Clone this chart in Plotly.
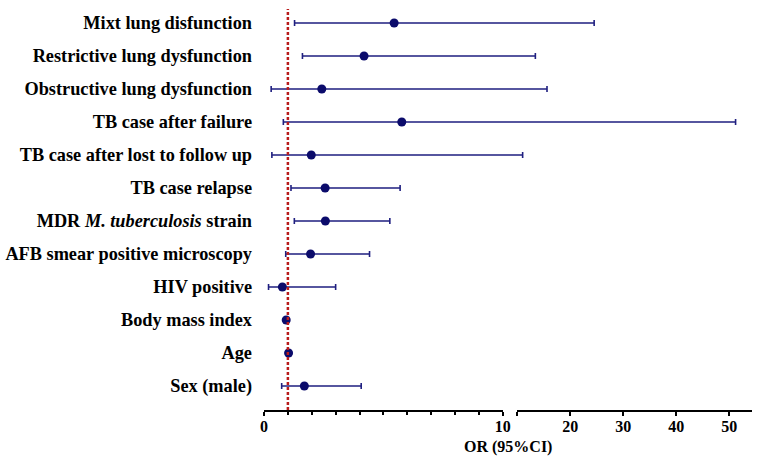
import plotly.graph_objects as go

# ---- data ----
labels = [
    "Mixt lung disfunction",
    "Restrictive lung dysfunction",
    "Obstructive lung dysfunction",
    "TB case after failure",
    "TB case after lost to follow up",
    "TB case relapse",
    "MDR <i>M. tuberculosis</i> strain",
    "AFB smear positive microscopy",
    "HIV positive",
    "Body mass index",
    "Age",
    "Sex (male)",
]
odds_ratio = [5.45, 4.19, 2.42, 5.77, 1.98, 2.56, 2.57, 1.95, 0.77, 0.93, 1.03, 1.69]
ci_lower = [1.28, 1.61, 0.30, 0.81, 0.33, 1.13, 1.27, 0.91, 0.19, 0.91, 1.01, 0.74]
ci_upper = [24.5, 13.4, 15.6, 51.2, 11.0, 5.70, 5.27, 4.42, 3.00, 0.95, 1.05, 4.07]
left_ticks = [0, 10]
right_ticks = [20, 30, 40, 50]
NULL_OR = 1

# ---- broken axis geometry ----
W, H = 760, 459
ML, MR, MT, MB = 264, 0, 3, 49
plot_w = W - ML - MR
D1 = (506.7 - ML) / plot_w          # end of left segment (fraction of plot width)
D2 = (521.5 - ML) / plot_w          # start of right segment
LEFT_RANGE = [0, 10]
RIGHT_RANGE = [10, 54.3]


def tx(v):
    """map an OR value to the shared 0..1 data axis (piecewise broken scale)."""
    if v <= LEFT_RANGE[1]:
        return (v - LEFT_RANGE[0]) / (LEFT_RANGE[1] - LEFT_RANGE[0]) * D1
    return D2 + (v - RIGHT_RANGE[0]) / (RIGHT_RANGE[1] - RIGHT_RANGE[0]) * (1 - D2)


n = len(labels)
ypos = list(range(n - 1, -1, -1))
xp = [tx(v) for v in odds_ratio]
err_plus = [tx(u) - tx(v) for u, v in zip(ci_upper, odds_ratio)]
err_minus = [tx(v) - tx(l) for l, v in zip(ci_lower, odds_ratio)]

LINE_C = "#1f1f80"
DOT_C = "#0b0b6b"
FONT = "Liberation Serif"

fig = go.Figure()
# dummy traces so the display (broken) axes render
for ax in ["x2", "x3", "x4", "x5"]:
    fig.add_trace(go.Scatter(x=[None], y=[None], xaxis=ax, yaxis="y",
                             showlegend=False, hoverinfo="skip"))
fig.add_trace(go.Scatter(
    x=xp, y=ypos, mode="markers", xaxis="x", yaxis="y",
    marker=dict(size=9, color=DOT_C),
    error_x=dict(type="data", symmetric=False, array=err_plus, arrayminus=err_minus,
                 color=LINE_C, thickness=1.6, width=3),
    showlegend=False, hoverinfo="skip",
))

pad_bottom = 24 / 33.0  # axis line 24 px below last row
y_lo = -pad_bottom
y_hi = y_lo + (H - MT - MB) / 33.0

axis_common = dict(showgrid=False, zeroline=False, linecolor="black", linewidth=1.6,
                   tickcolor="black", tickfont=dict(family=FONT, size=16, color="black"),
                   ticklabelstandoff=-3)

fig.update_layout(
    width=W, height=H,
    margin=dict(l=ML, r=MR, t=MT, b=MB),
    plot_bgcolor="rgba(0,0,0,0)", paper_bgcolor="white",
    xaxis=dict(domain=[0, 1], range=[0, 1], visible=False, fixedrange=True),
    xaxis2=dict(domain=[0, D1], range=LEFT_RANGE, anchor="y", showline=True,
                tickmode="array", tickvals=left_ticks,
                ticktext=[f"<b>{t}</b>" for t in left_ticks],
                ticks="outside", ticklen=4, tickwidth=2,
                minor=dict(dtick=1, ticks="outside", ticklen=3, tickwidth=1.5, tickcolor="black"),
                **axis_common),
    xaxis3=dict(domain=[D2, 1], range=RIGHT_RANGE, anchor="y", showline=True,
                tickmode="array", tickvals=[10] + right_ticks,
                ticktext=[""] + [f"<b>{t}</b>" for t in right_ticks],
                ticks="outside", ticklen=4, tickwidth=1.6,
                **axis_common),
    xaxis4=dict(overlaying="x2", range=LEFT_RANGE, anchor="y", showline=False,
                tickmode="array", tickvals=left_ticks, showticklabels=False,
                ticks="inside", ticklen=3, tickwidth=2, showgrid=False, zeroline=False,
                tickcolor="black"),
    xaxis5=dict(overlaying="x3", range=RIGHT_RANGE, anchor="y", showline=False,
                tickmode="array", tickvals=[10], showticklabels=False,
                ticks="inside", ticklen=4, tickwidth=2.5, showgrid=False, zeroline=False,
                tickcolor="black"),
    yaxis=dict(range=[y_lo, y_hi], tickmode="array", tickvals=ypos,
               ticktext=[f"<b>{l}</b>" for l in labels],
               tickfont=dict(family=FONT, size=18.3, color="black"),
               showgrid=False, zeroline=False, showline=False, ticks="",
               ticklabelstandoff=11),
    shapes=[dict(type="line", xref="x", yref="paper", x0=tx(NULL_OR), x1=tx(NULL_OR),
                 y0=0, y1=0.985, line=dict(color="#b81c1c", width=2.5, dash="3px,2px"),
                 layer="above")],
    annotations=[dict(text="<b>OR (95%CI)</b>", xref="paper", yref="paper",
                      x=0.5, y=0, yanchor="middle", yshift=-37, showarrow=False,
                      font=dict(family=FONT, size=16, color="black"))],
)

fig.write_html("out.html", post_script="document.body.style.margin='0';",
               config={"displayModeBar": False})
